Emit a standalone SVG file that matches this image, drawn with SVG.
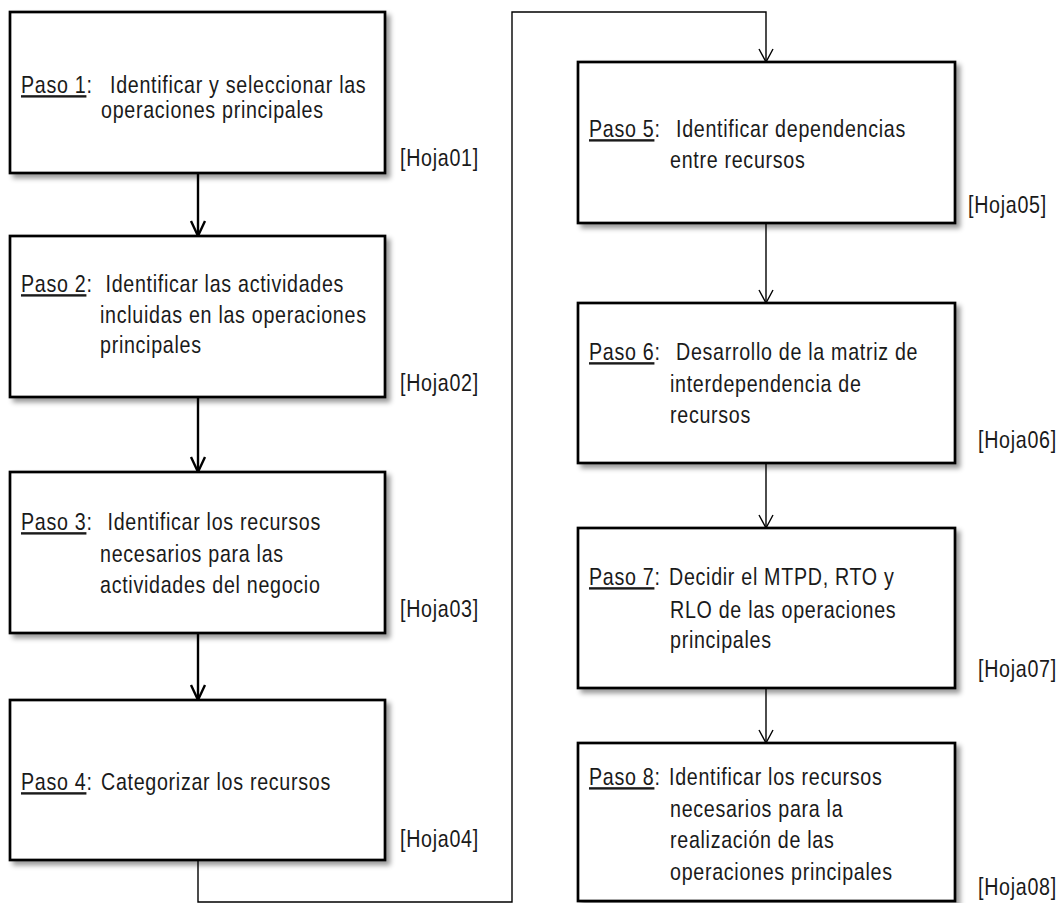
<svg xmlns="http://www.w3.org/2000/svg" width="1060" height="903" viewBox="0 0 1060 903">
  <style>
    text { font-family: "Liberation Sans", Arial, sans-serif; font-size: 24px; letter-spacing: 0.85px; fill: #1a1a1a; }
    .step { text-decoration: underline; }
    .box { fill: #ffffff; stroke: #000000; stroke-width: 2.7; filter: url(#shadow); }
    .thick { fill: none; stroke: #000000; stroke-width: 2.4; marker-end: url(#headThick); }
    .thin { fill: none; stroke: #000000; stroke-width: 1.4; marker-end: url(#headThin); }
  </style>
  <defs>
    <filter id="shadow" x="-5%" y="-5%" width="115%" height="120%">
      <feDropShadow dx="4" dy="4" stdDeviation="2.5" flood-color="#000000" flood-opacity="0.4"/>
    </filter>
    <marker id="headThick" markerUnits="userSpaceOnUse" viewBox="-18 -10 20 20" refX="0" refY="0" markerWidth="20" markerHeight="20" orient="auto" overflow="visible">
      <path d="M-15,-7 L0,0 L-15,7" fill="none" stroke="#000000" stroke-width="2.4"/>
    </marker>
    <marker id="headThin" markerUnits="userSpaceOnUse" viewBox="-18 -10 20 20" refX="0" refY="0" markerWidth="20" markerHeight="20" orient="auto" overflow="visible">
      <path d="M-13,-7 L0,0 L-13,7" fill="none" stroke="#000000" stroke-width="1.4"/>
    </marker>
  </defs>

  <g id="connectors">
    <path class="thick" d="M198,173 V236"/>
    <path class="thick" d="M198,397 V472"/>
    <path class="thick" d="M198,633 V700"/>
    <path class="thin" d="M198,860 V902 H512 V12 H766 V62"/>
    <path class="thin" d="M766,223 V303"/>
    <path class="thin" d="M766,463 V528"/>
    <path class="thin" d="M766,688 V743"/>
  </g>

  <!-- labels use a horizontally condensed sans (x = page x / 0.82) -->
  <g id="paso1">
    <rect class="box" x="10" y="12" width="375" height="161"/>
    <g transform="scale(0.82 1)">
      <text x="25.61" y="93"><tspan class="step">Paso 1</tspan>:<tspan x="134.15">Identificar y seleccionar las</tspan></text>
      <text x="123.17" y="118">operaciones principales</text>
      <text x="487.8" y="166">[Hoja01]</text>
    </g>
  </g>

  <g id="paso2">
    <rect class="box" x="10" y="236" width="375" height="161"/>
    <g transform="scale(0.82 1)">
      <text x="25.61" y="292"><tspan class="step">Paso 2</tspan>:<tspan x="128.66">Identificar las actividades</tspan></text>
      <text x="121.95" y="323">incluidas en las operaciones</text>
      <text x="121.95" y="353">principales</text>
      <text x="487.8" y="391">[Hoja02]</text>
    </g>
  </g>

  <g id="paso3">
    <rect class="box" x="10" y="472" width="375" height="161"/>
    <g transform="scale(0.82 1)">
      <text x="25.61" y="530"><tspan class="step">Paso 3</tspan>:<tspan x="131.1">Identificar los recursos</tspan></text>
      <text x="121.95" y="562">necesarios para las</text>
      <text x="121.95" y="593">actividades del negocio</text>
      <text x="487.8" y="617">[Hoja03]</text>
    </g>
  </g>

  <g id="paso4">
    <rect class="box" x="10" y="700" width="375" height="160"/>
    <g transform="scale(0.82 1)">
      <text x="25.61" y="790"><tspan class="step">Paso 4</tspan>:<tspan x="123.17">Categorizar los recursos</tspan></text>
      <text x="487.8" y="847">[Hoja04]</text>
    </g>
  </g>

  <g id="paso5">
    <rect class="box" x="578" y="62" width="377" height="161"/>
    <g transform="scale(0.82 1)">
      <text x="718.29" y="137"><tspan class="step">Paso 5</tspan>:<tspan x="824.39">Identificar dependencias</tspan></text>
      <text x="817.07" y="168">entre recursos</text>
      <text x="1180.49" y="213">[Hoja05]</text>
    </g>
  </g>

  <g id="paso6">
    <rect class="box" x="578" y="303" width="377" height="160"/>
    <g transform="scale(0.82 1)">
      <text x="718.29" y="360"><tspan class="step">Paso 6</tspan>:<tspan x="824.39">Desarrollo de la matriz de</tspan></text>
      <text x="817.07" y="392">interdependencia de</text>
      <text x="817.07" y="423">recursos</text>
      <text x="1192.68" y="448">[Hoja06]</text>
    </g>
  </g>

  <g id="paso7">
    <rect class="box" x="578" y="528" width="377" height="160"/>
    <g transform="scale(0.82 1)">
      <text x="718.29" y="585"><tspan class="step">Paso 7</tspan>:<tspan x="815.85">Decidir el MTPD, RTO y</tspan></text>
      <text x="817.07" y="618">RLO de las operaciones</text>
      <text x="817.07" y="648">principales</text>
      <text x="1192.68" y="677">[Hoja07]</text>
    </g>
  </g>

  <g id="paso8">
    <rect class="box" x="578" y="743" width="377" height="158"/>
    <g transform="scale(0.82 1)">
      <text x="718.29" y="785"><tspan class="step">Paso 8</tspan>:<tspan x="815.85">Identificar los recursos</tspan></text>
      <text x="817.07" y="817">necesarios para la</text>
      <text x="817.07" y="848">realización de las</text>
      <text x="817.07" y="880">operaciones principales</text>
      <text x="1192.68" y="895">[Hoja08]</text>
    </g>
  </g>
</svg>
